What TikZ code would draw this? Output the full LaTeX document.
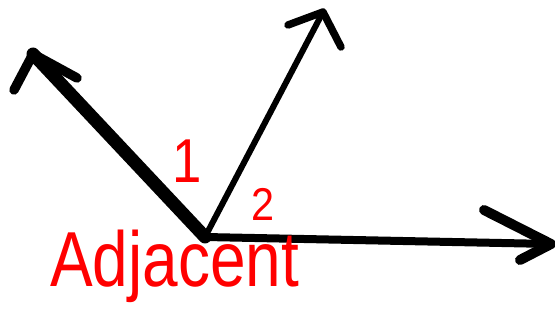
\documentclass[tikz,border=0pt]{standalone}
\usepackage{fontspec}
\setmainfont{Liberation Sans}
\begin{document}
\begin{tikzpicture}[x=1pt,y=-1pt,
  ray/.style={draw=black,line cap=round,line join=round},
  lbl/.style={text=red,inner sep=0pt}]
\useasboundingbox (0,0) rectangle (555,320);
\coordinate (O) at (205,237);
\coordinate (L) at (33,54);
\coordinate (U) at (323,12);
\coordinate (R) at (551,244);
\coordinate (La) at (14,90);
\coordinate (Lb) at (77,78);
\coordinate (Ua) at (288,25);
\coordinate (Ub) at (341,47);
\coordinate (Ra) at (484,210);
\coordinate (Rb) at (520,260);
% rays
\draw[ray,line width=13pt] (O) -- (L);
\draw[ray,line width=6pt] (O) -- (U);
\draw[ray,line width=8pt] (O) -- (R);
% arrowheads
\draw[ray,line width=9.5pt] (La) -- (L) -- (Lb);
\draw[ray,line width=7.5pt] (Ua) -- (U) -- (Ub);
\draw[ray,line width=10pt] (Ra) -- (R) -- (Rb);
% labels
\node[lbl,font=\fontsize{62}{62}\selectfont,xscale=0.85] (one) at (187,161) {1};
\node[lbl,font=\fontsize{46}{46}\selectfont,xscale=0.9] (two) at (263,204) {2};
\node[lbl,font=\fontsize{78}{78}\selectfont,xscale=0.82,anchor=base west] (adj) at (50,287) {Adjacent};
\end{tikzpicture}
\end{document}
